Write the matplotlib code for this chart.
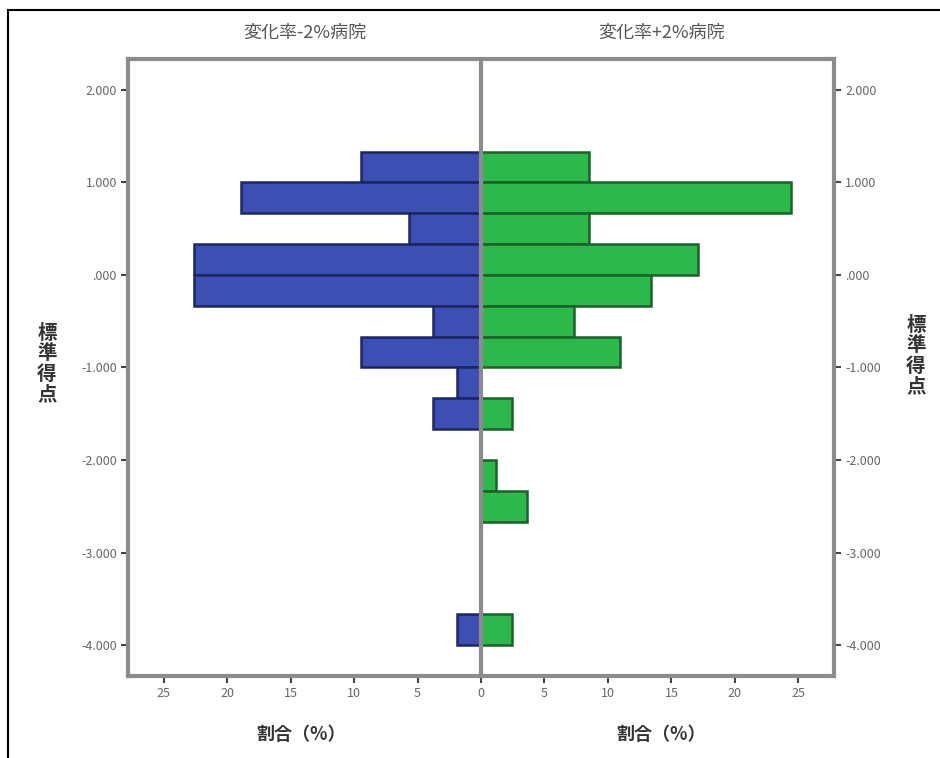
import numpy as np
import matplotlib
matplotlib.use("Agg")
import matplotlib.pyplot as plt
from matplotlib.ticker import FuncFormatter
from matplotlib.lines import Line2D

plt.rcParams['font.family'] = ['Noto Sans CJK JP', 'DejaVu Sans']

# -----------------------
# Data (score bins, top to bottom, width 1/3)
# -----------------------

bin_bottom = [1.0, 0.667, 0.333, 0.0, -0.333, -0.667, -1.0, -1.333,
              -1.667, -2.0, -2.333, -2.667, -3.0, -3.333, -3.667, -4.0]

minus_pct = [9.43, 18.87, 5.66, 22.64, 22.64, 3.77, 9.43, 1.89,
             3.77, 0, 0, 0, 0, 0, 0, 1.89]

plus_pct = [8.54, 24.39, 8.54, 17.07, 13.41, 7.32, 10.98, 0,
            2.44, 0, 1.22, 3.66, 0, 0, 0, 2.44]

bin_h = 1/3

title_left = "変化率-2%病院"
title_right = "変化率+2%病院"
xlabel = "割合（%）"
ylabel = "標準得点"

yticks = [2, 1, 0, -1, -2, -3, -4]
xticks = [-25, -20, -15, -10, -5, 0, 5, 10, 15, 20, 25]

# -----------------------
# Plot
# -----------------------

fig = plt.figure(figsize=(9.4, 7.58), dpi=100)
ax = fig.add_axes([128/940, 82/758, 706/940, 617/758])

ax.barh(bin_bottom, [-v for v in minus_pct], height=bin_h, align="edge",
        color="#3c50b4", edgecolor="#1c2660", linewidth=1.8)
ax.barh(bin_bottom, plus_pct, height=bin_h, align="edge",
        color="#2cb84a", edgecolor="#1b6129", linewidth=1.8)

ax.axvline(0, color="#8c8c8c", linewidth=3, zorder=3)

ax.set_xlim(-27.8, 27.8)
ax.set_ylim(-4.335, 2.335)

for s in ax.spines.values():
    s.set_color("#8c8c8c")
    s.set_linewidth(3)

ax.set_xticks(xticks)
ax.xaxis.set_major_formatter(FuncFormatter(lambda v, p: f"{abs(v):.0f}"))
ax.set_yticks(yticks)


def yfmt(v, p):
    s = f"{v:.3f}"
    return s.replace("0.", ".", 1) if abs(v) < 1 else s


ax.yaxis.set_major_formatter(FuncFormatter(yfmt))
ax.tick_params(axis="both", colors="#444444", labelsize=9, length=5,
               width=1.5, labelcolor="#666666", pad=3)
ax.tick_params(axis="y", right=True, labelright=True)

# titles
ax.text(0.25, 1.043, title_left, transform=ax.transAxes, ha="center",
        va="center", fontsize=13, color="#555555")
ax.text(0.755, 1.043, title_right, transform=ax.transAxes, ha="center",
        va="center", fontsize=13, color="#555555")

# x labels
ax.text(0.245, -0.095, xlabel, transform=ax.transAxes, ha="center",
        va="center", fontsize=13, color="#333333", fontweight="bold")
ax.text(0.755, -0.095, xlabel, transform=ax.transAxes, ha="center",
        va="center", fontsize=13, color="#333333", fontweight="bold")

# y labels (stacked characters)
stacked = "\n".join(ylabel)
fig.text(47/940, 1 - 364/758, stacked, ha="center", va="center",
         fontsize=14, color="#333333", linespacing=1.1, fontweight="bold")
fig.text(916/940, 1 - 356/758, stacked, ha="center", va="center",
         fontsize=14, color="#333333", linespacing=1.1, fontweight="bold")

# outer frame (left and top)
fig.add_artist(Line2D([8/940, 8/940], [0, 1 - 10/758], color="black",
                      linewidth=1.5, transform=fig.transFigure))
fig.add_artist(Line2D([8/940, 1], [1 - 10/758, 1 - 10/758], color="black",
                      linewidth=1.5, transform=fig.transFigure))

plt.savefig("out.png", dpi=100)
plt.close()
